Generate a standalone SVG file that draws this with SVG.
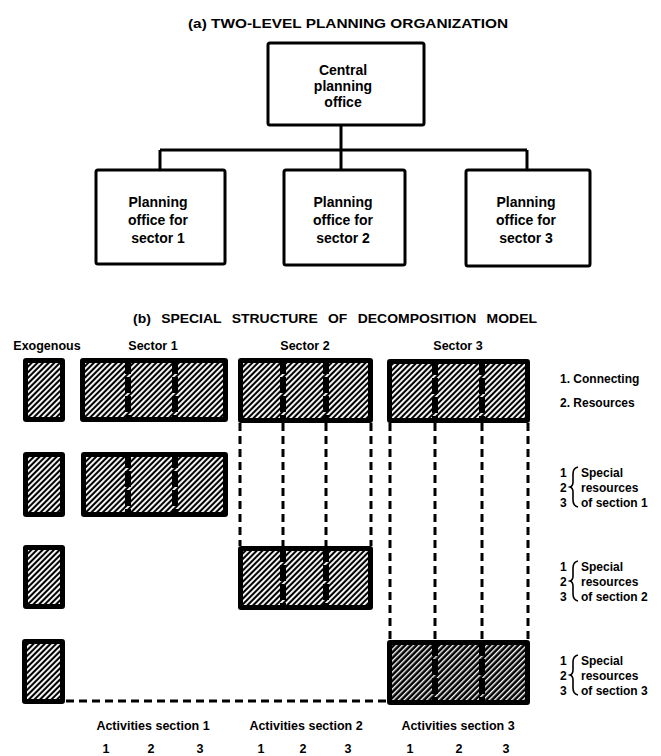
<svg xmlns="http://www.w3.org/2000/svg" width="661" height="756" viewBox="0 0 661 756">
<defs>
<style>
text{font-family:"Liberation Sans",Arial,sans-serif;font-weight:700;fill:#000}
.t{font-size:13px;text-anchor:middle}
.bx{font-size:14px;text-anchor:middle}
.lb{font-size:12.5px;text-anchor:middle}
.rl{font-size:12px}
.box{fill:#fff;stroke:#000;stroke-width:3}
.con{fill:none;stroke:#000;stroke-width:3}
.blk{fill:#000}
.hat{fill:url(#hatch)}
.hat2{fill:url(#hatch2)}
.div{stroke:#000;stroke-width:6;stroke-dasharray:16 3}
.dash{fill:none;stroke:#000;stroke-width:3;stroke-dasharray:8 5}
.brace{fill:none;stroke:#000;stroke-width:1.6}
</style>
<pattern id="hatch" width="4" height="4" patternUnits="userSpaceOnUse" patternTransform="rotate(45)">
<rect width="4" height="4" fill="#000"/>
<rect x="0" y="0" width="1.9" height="4" fill="#fff"/>
</pattern>
<pattern id="hatch2" width="4" height="4" patternUnits="userSpaceOnUse" patternTransform="rotate(45)">
<rect width="4" height="4" fill="#000"/>
<rect x="0" y="0" width="1.4" height="4" fill="#fff"/>
</pattern>
</defs>
<rect width="661" height="756" fill="#fff"/>

<text class="t" x="348" y="28" textLength="320" lengthAdjust="spacingAndGlyphs">(a) TWO-LEVEL PLANNING ORGANIZATION</text>

<g id="connectors">
<path class="con" d="M341 125 V150 M160 150 H527 M160 150 V170 M341 150 V170 M527 150 V170"/>
<path class="dash" d="M240 423 V546 M283 423 V546 M326 423 V546 M371 423 V546"/>
<path class="dash" d="M390 423 V640 M435 423 V640 M482 423 V640 M528 423 V640"/>
<path class="dash" d="M66 701 H387" stroke-dasharray="10 5"/>
</g>

<g id="central">
<rect class="box" x="268" y="43" width="156" height="82" rx="2"/>
<text class="bx" x="343" y="75">Central</text>
<text class="bx" x="343" y="91">planning</text>
<text class="bx" x="343" y="107">office</text>
</g>
<g id="office1">
<rect class="box" x="96" y="170" width="129" height="94" rx="2"/>
<text class="bx" x="158" y="207">Planning</text>
<text class="bx" x="158" y="225">office for</text>
<text class="bx" x="158" y="243">sector 1</text>
</g>
<g id="office2">
<rect class="box" x="284" y="170" width="121" height="95" rx="2"/>
<text class="bx" x="343" y="207">Planning</text>
<text class="bx" x="343" y="225">office for</text>
<text class="bx" x="343" y="243">sector 2</text>
</g>
<g id="office3">
<rect class="box" x="466" y="170" width="124" height="96" rx="2"/>
<text class="bx" x="526" y="207">Planning</text>
<text class="bx" x="526" y="225">office for</text>
<text class="bx" x="526" y="243">sector 3</text>
</g>

<text class="t" x="335" y="323" textLength="404" lengthAdjust="spacingAndGlyphs" word-spacing="6">(b) SPECIAL STRUCTURE OF DECOMPOSITION MODEL</text>

<g id="headers">
<text class="lb" x="47" y="350">Exogenous</text>
<text class="lb" x="153" y="350">Sector 1</text>
<text class="lb" x="305" y="350">Sector 2</text>
<text class="lb" x="458" y="350">Sector 3</text>
</g>

<g id="exo1"><rect class="blk" x="23" y="358" width="42" height="64" rx="3"/><rect class="hat" x="28" y="363" width="32" height="54"/></g>
<g id="exo2"><rect class="blk" x="23" y="452" width="42" height="65" rx="3"/><rect class="hat" x="28" y="457" width="32" height="55"/></g>
<g id="exo3"><rect class="blk" x="23" y="545" width="42" height="64" rx="3"/><rect class="hat" x="28" y="550" width="32" height="54"/></g>
<g id="exo4"><rect class="blk" x="22" y="639" width="43" height="65" rx="3"/><rect class="hat" x="27" y="644" width="33" height="55"/></g>

<g id="s1r1">
<rect class="blk" x="80" y="358" width="148" height="64" rx="3"/>
<rect class="hat" x="85" y="363" width="138" height="54"/>
<line class="div" x1="128" y1="358" x2="128" y2="422"/>
<line class="div" x1="175" y1="358" x2="175" y2="422"/>
</g>
<g id="s2r1">
<rect class="blk" x="238" y="358" width="135" height="65" rx="3"/>
<rect class="hat" x="243" y="363" width="125" height="55"/>
<line class="div" x1="283" y1="358" x2="283" y2="423"/>
<line class="div" x1="326" y1="358" x2="326" y2="423"/>
</g>
<g id="s3r1">
<rect class="blk" x="387" y="359" width="143" height="64" rx="3"/>
<rect class="hat" x="392" y="364" width="133" height="54"/>
<line class="div" x1="435" y1="359" x2="435" y2="423"/>
<line class="div" x1="482" y1="359" x2="482" y2="423"/>
</g>
<g id="s1r2">
<rect class="blk" x="81" y="452" width="147" height="65" rx="3"/>
<rect class="hat" x="86" y="457" width="137" height="55"/>
<line class="div" x1="128" y1="452" x2="128" y2="517"/>
<line class="div" x1="175" y1="452" x2="175" y2="517"/>
</g>
<g id="s2r3">
<rect class="blk" x="238" y="546" width="135" height="64" rx="3"/>
<rect class="hat" x="243" y="551" width="125" height="54"/>
<line class="div" x1="283" y1="546" x2="283" y2="610"/>
<line class="div" x1="326" y1="546" x2="326" y2="610"/>
</g>
<g id="s3r4">
<rect class="blk" x="387" y="640" width="143" height="65" rx="3"/>
<rect class="hat2" x="392" y="645" width="133" height="55"/>
<line class="div" x1="435" y1="640" x2="435" y2="705"/>
<line class="div" x1="482" y1="640" x2="482" y2="705"/>
</g>

<g id="row-labels">
<text class="rl" x="560" y="383">1.  Connecting</text>
<text class="rl" x="560" y="407">2.  Resources</text>

<text class="rl" x="560" y="477">1</text>
<text class="rl" x="560" y="492">2</text>
<text class="rl" x="560" y="507">3</text>
<path class="brace" d="M578 467 Q573 468 573 474 V482 Q573 486 570 487 Q573 488 573 492 V500 Q573 506 578 507"/>
<text class="rl" x="581" y="477">Special</text>
<text class="rl" x="581" y="492">resources</text>
<text class="rl" x="581" y="507">of section 1</text>

<text class="rl" x="560" y="571">1</text>
<text class="rl" x="560" y="586">2</text>
<text class="rl" x="560" y="601">3</text>
<path class="brace" d="M578 561 Q573 562 573 568 V576 Q573 580 570 581 Q573 582 573 586 V594 Q573 600 578 601"/>
<text class="rl" x="581" y="571">Special</text>
<text class="rl" x="581" y="586">resources</text>
<text class="rl" x="581" y="601">of section 2</text>

<text class="rl" x="560" y="665">1</text>
<text class="rl" x="560" y="680">2</text>
<text class="rl" x="560" y="695">3</text>
<path class="brace" d="M578 655 Q573 656 573 662 V670 Q573 674 570 675 Q573 676 573 680 V688 Q573 694 578 695"/>
<text class="rl" x="581" y="665">Special</text>
<text class="rl" x="581" y="680">resources</text>
<text class="rl" x="581" y="695">of section 3</text>
</g>

<g id="col-labels">
<text class="lb" x="153" y="730">Activities section 1</text>
<text class="lb" x="306" y="730">Activities section 2</text>
<text class="lb" x="458" y="730">Activities section 3</text>
<text class="lb" x="106" y="753">1</text>
<text class="lb" x="151" y="753">2</text>
<text class="lb" x="200" y="753">3</text>
<text class="lb" x="261" y="753">1</text>
<text class="lb" x="303" y="753">2</text>
<text class="lb" x="348" y="753">3</text>
<text class="lb" x="410" y="753">1</text>
<text class="lb" x="459" y="753">2</text>
<text class="lb" x="506" y="753">3</text>
</g>
</svg>
